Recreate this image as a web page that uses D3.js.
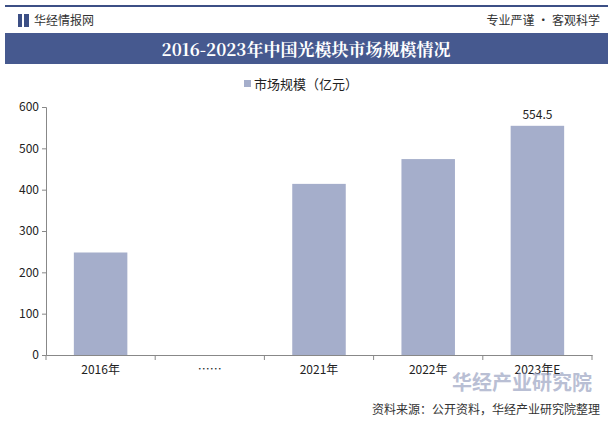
<!DOCTYPE html>
<html><head><meta charset="utf-8">
<script src="https://cdn.jsdelivr.net/npm/d3@7"></script>
<style>body{margin:0;background:#fff}</style></head>
<body><svg id="c" width="613" height="428"></svg>
<script>
const categories = ['2016年', '……', '2021年', '2022年', '2023年E'];
const values = [248, null, 414, 474, 554.5];
const yTicks = [0, 100, 200, 300, 400, 500, 600];
const labelled = ['2023年E'];

const svg = d3.select('#c');
const font = '"Noto Sans CJK SC", sans-serif';
// header
svg.append('rect').attr('x', 5).attr('y', 5).attr('width', 603).attr('height', 2).attr('fill', '#3c4f85');
svg.append('rect').attr('x', 18).attr('y', 14).attr('width', 4).attr('height', 13).attr('fill', '#3c4f85');
svg.append('rect').attr('x', 24).attr('y', 14).attr('width', 5).attr('height', 13).attr('fill', '#3c4f85');
svg.append('text').attr('x', 34).attr('y', 25).attr('font-size', 12).attr('font-family', font).attr('fill', '#333').text('华经情报网');
svg.append('text').attr('x', 600).attr('y', 25).attr('text-anchor', 'end').attr('font-size', 12).attr('font-family', font).attr('fill', '#333').text('专业严谨 • 客观科学');
svg.append('rect').attr('x', 5).attr('y', 33).attr('width', 603).attr('height', 31).attr('fill', '#46598f');
svg.append('text').attr('x', 306).attr('y', 56).attr('text-anchor', 'middle').attr('font-size', 17).attr('font-weight', 'bold')
  .attr('font-family', '"Noto Serif CJK SC", "Noto Sans CJK SC", serif').attr('fill', '#fff').text('2016-2023年中国光模块市场规模情况');
// legend
svg.append('rect').attr('x', 244).attr('y', 80).attr('width', 7).attr('height', 7).attr('fill', '#a5aecb');
svg.append('text').attr('x', 254).attr('y', 89).attr('font-size', 13).attr('font-family', font).attr('fill', '#222').text('市场规模（亿元）');

const m = {left: 46, right: 592, top: 107, bottom: 355};
const x = d3.scaleBand().domain(categories).range([m.left, m.right]).paddingInner(0.51).paddingOuter(0.255);
const y = d3.scaleLinear().domain([0, 600]).range([m.bottom, m.top]);

const yAx = svg.append('g').attr('transform', `translate(${m.left},0)`)
  .call(d3.axisLeft(y).tickValues(yTicks).tickSize(4));
yAx.selectAll('text').attr('font-size', 12).attr('font-family', font).attr('fill', '#222');
yAx.selectAll('line,path').attr('stroke', '#888');

const band = x.step();
const xAx = svg.append('g').attr('transform', `translate(0,${m.bottom})`)
  .call(d3.axisBottom(x).tickSize(0).tickPadding(10));
xAx.select('path').attr('stroke', '#888');
xAx.selectAll('text').attr('font-size', 12).attr('font-family', font).attr('fill', '#222');
categories.forEach((c, i) => {
  const xx = m.left + band * i;
  svg.append('line').attr('x1', xx).attr('x2', xx).attr('y1', m.bottom).attr('y2', m.bottom + 5).attr('stroke', '#888');
});
svg.append('line').attr('x1', m.right).attr('x2', m.right).attr('y1', m.bottom).attr('y2', m.bottom + 5).attr('stroke', '#888');

const data = categories.map((c, i) => ({c, v: values[i]})).filter(d => d.v != null);
svg.selectAll('.bar').data(data).enter().append('rect')
  .attr('x', d => x(d.c)).attr('width', x.bandwidth())
  .attr('y', d => y(d.v)).attr('height', d => y(0) - y(d.v)).attr('fill', '#a5aecb');
svg.selectAll('.lab').data(data.filter(d => labelled.includes(d.c))).enter().append('text')
  .attr('x', d => x(d.c) + x.bandwidth() / 2).attr('y', d => y(d.v) - 7).attr('text-anchor', 'middle')
  .attr('font-size', 12).attr('font-family', font).attr('fill', '#222').text(d => d.v);

svg.append('text').attr('x', 600).attr('y', 414).attr('text-anchor', 'end').attr('font-size', 12).attr('font-family', font).attr('fill', '#333')
  .text('资料来源：公开资料，华经产业研究院整理');
svg.append('text').attr('x', 592).attr('y', 390).attr('text-anchor', 'end').attr('font-size', 20).attr('font-weight', 'bold').attr('font-family', font).attr('fill', '#8b95b8').attr('opacity', 0.6).text('华经产业研究院');
</script></body></html>
